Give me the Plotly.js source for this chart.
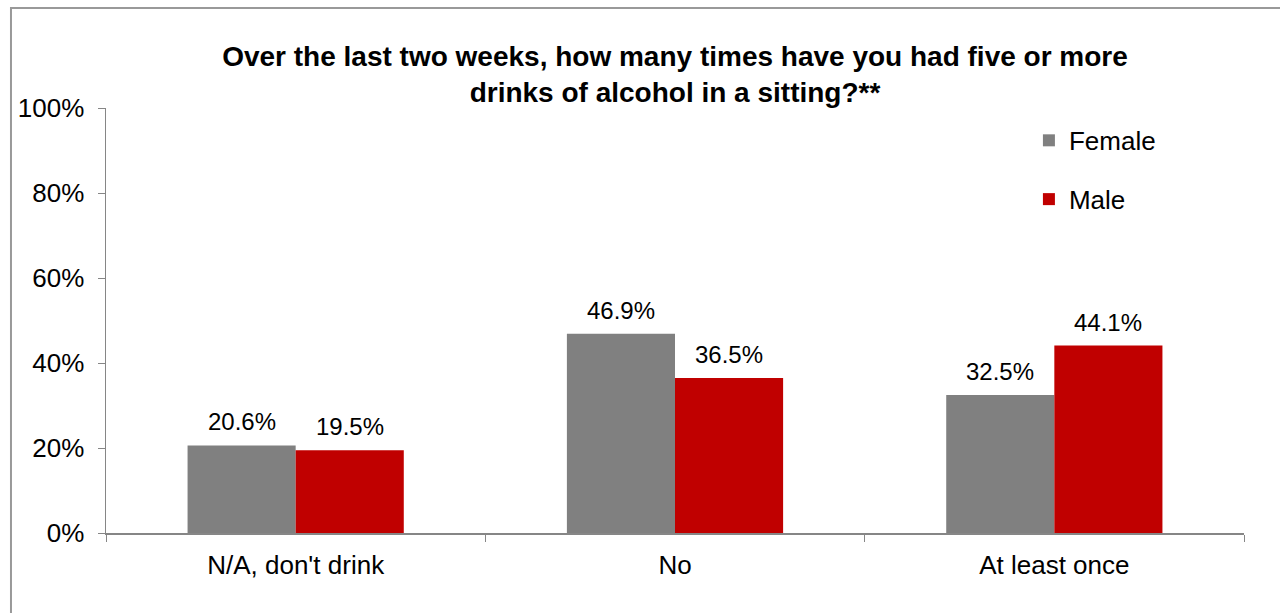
<!DOCTYPE html>
<html>
<head>
<meta charset="utf-8">
<script src="https://cdn.plot.ly/plotly-3.0.1.min.js"></script>
<style>html,body{margin:0;padding:0;background:#fff;}#chart{width:1280px;height:613px;}</style>
</head>
<body>
<div id="chart"></div>
<script>
const categories = ["N/A, don't drink", "No", "At least once"];
const female = [20.6, 46.9, 32.5];
const male = [19.5, 36.5, 44.1];
const yTicks = [0, 20, 40, 60, 80, 100];
const yTickText = ["0%", "20%", "40%", "60%", "80%", "100%"];

const FAM = 'Liberation Sans, Arial, sans-serif';
const fnt = {family: FAM, size: 26, color: '#000'};
const lbl = v => v.toFixed(1) + '%';

const traces = [
  {type: 'bar', name: 'Female', x: categories, y: female, marker: {color: '#808080'},
   legendgroup: 'f', hoverinfo: 'none'},
  {type: 'bar', name: 'Male', x: categories, y: male, marker: {color: '#C00000'},
   legendgroup: 'm', hoverinfo: 'none'}
];

const BAR_HALF = 54;
const annotations = [];
categories.forEach((c, i) => {
  annotations.push({x: c, y: female[i], xref: 'x', yref: 'y', text: lbl(female[i]), showarrow: false,
    xshift: -BAR_HALF, yshift: 8, yanchor: 'bottom', font: {family: FAM, size: 24, color: '#000'}});
  annotations.push({x: c, y: male[i], xref: 'x', yref: 'y', text: lbl(male[i]), showarrow: false,
    xshift: BAR_HALF, yshift: 8, yanchor: 'bottom', font: {family: FAM, size: 24, color: '#000'}});
});

const layout = {
  width: 1280, height: 613,
  margin: {l: 106, r: 36, t: 108, b: 80},
  paper_bgcolor: '#fff', plot_bgcolor: '#fff',
  font: fnt,
  title: {text: 'Over the last two weeks, how many times have you had five or more<br>drinks of alcohol in a sitting?**',
          font: {family: FAM, size: 28, color: '#000', weight: 'bold'},
          x: 0.5, xref: 'paper', y: 0.893, yref: 'container', yanchor: 'top'},
  barmode: 'group', bargap: 0.43, bargroupgap: 0,
  showlegend: true,
  legend: {x: 0.811, y: 0.979, xanchor: 'left', yanchor: 'top', font: {family: FAM, size: 26, color: '#000'},
           traceorder: 'grouped', tracegroupgap: 22, itemwidth: 30, bgcolor: 'rgba(0,0,0,0)'},
  xaxis: {type: 'category', showline: true, linecolor: '#868686', linewidth: 1.5, ticks: 'outside', tickson: 'boundaries',
          ticklen: 7, tickcolor: '#868686', showgrid: false, tickfont: fnt, ticklabelstandoff: 8, fixedrange: true},
  yaxis: {range: [0, 100], tickvals: yTicks, ticktext: yTickText, showline: true, linecolor: '#868686', linewidth: 1.5,
          ticks: 'outside', ticklen: 7, tickcolor: '#868686', showgrid: false, zeroline: false, tickfont: fnt,
          ticklabelstandoff: 8, fixedrange: true},
  annotations: annotations,
  shapes: [{type: 'rect', xref: 'paper', yref: 'paper', x0: -0.0835, x1: 1.2, y0: -0.5, y1: 1.2353,
            line: {color: '#999', width: 2}, fillcolor: 'rgba(0,0,0,0)', layer: 'below'}]
};

Plotly.newPlot('chart', traces, layout, {displayModeBar: false, staticPlot: true});
</script>
</body>
</html>
